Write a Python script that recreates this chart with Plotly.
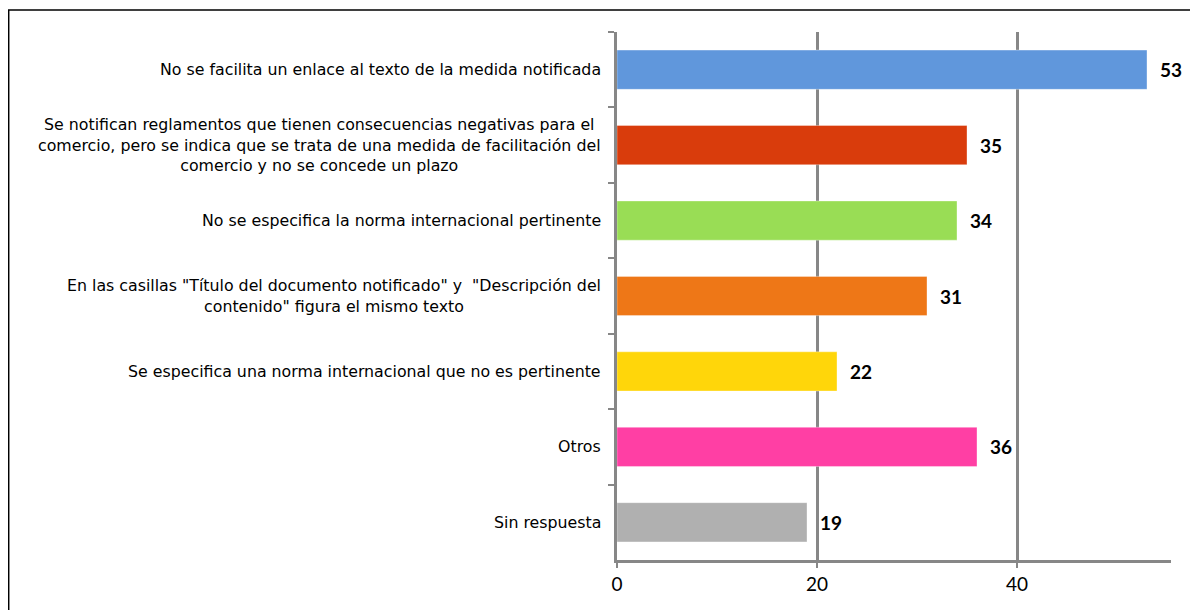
import plotly.graph_objects as go

categories = [
    "No se facilita un enlace al texto de la medida notificada",
    "Se notifican reglamentos que tienen consecuencias negativas para el<br>comercio, pero se indica que se trata de una medida de facilitación del<br>comercio y no se concede un plazo",
    "No se especifica la norma internacional pertinente",
    "En las casillas \"Título del documento notificado\" y  \"Descripción del<br>contenido\" figura el mismo texto",
    "Se especifica una norma internacional que no es pertinente",
    "Otros",
    "Sin respuesta",
]
values = [53, 35, 34, 31, 22, 36, 19]
colors = ["#6097DC", "#D93C0C", "#99DD55", "#EE7717", "#FFD60A", "#FF3FA4", "#B0B0B0"]
x_ticks = [0, 20, 40]

ids = [f"c{i}" for i in range(len(categories))]

fig = go.Figure()
fig.add_trace(go.Bar(
    y=ids, x=values, orientation="h",
    marker=dict(color=colors, line=dict(color="rgba(255,255,255,0.35)", width=1)),
    width=0.52,
    hoverinfo="skip",
))

for cid, lab, v in zip(ids, categories, values):
    fig.add_annotation(
        x=0, y=cid, xref="x", yref="y", text=lab, showarrow=False,
        xanchor="right", xshift=-14, align="center",
        font=dict(family="DejaVu Sans", size=15.8, color="#000000"),
    )
    fig.add_annotation(
        x=v, y=cid, xref="x", yref="y", text=str(v), showarrow=False,
        xanchor="left", xshift=11,
        font=dict(family="Lato", size=19, color="#000000", weight="bold"),
    )

# page has an 8px body margin, so the figure is slightly smaller than the window
W, H = 1190, 602
L, R, T, B = 609, 27, 24, 50
pw, ph = W - L - R, H - T - B
def px(x): return (x - L) / pw
def py(y): return (H - B - y) / ph

fig.add_shape(type="rect", xref="paper", yref="paper",
              x0=px(0.7), x1=px(1200), y0=py(610), y1=py(2),
              line=dict(color="#000000", width=1.5), fillcolor="rgba(0,0,0,0)", layer="below")

fig.update_layout(
    width=W, height=H,
    margin=dict(l=L, r=R, t=T, b=B),
    paper_bgcolor="white", plot_bgcolor="white",
    showlegend=False,
    xaxis=dict(range=[0, 55.4], tickvals=x_ticks, ticktext=[str(t) for t in x_ticks],
               showgrid=True, gridcolor="#878787", gridwidth=3,
               showline=True, linecolor="#878787", linewidth=3,
               ticks="outside", ticklen=5, tickcolor="#878787", tickwidth=2,
               tickfont=dict(family="Lato", size=19, color="#000000"),
               zeroline=False, fixedrange=True),
    yaxis=dict(categoryorder="array", categoryarray=ids, autorange="reversed",
               showticklabels=False, tickson="boundaries", ticks="outside",
               ticklen=6, tickcolor="#878787", tickwidth=2,
               showline=True, linecolor="#878787", linewidth=3,
               showgrid=False, fixedrange=True),
)

fig.write_html("out.html")
